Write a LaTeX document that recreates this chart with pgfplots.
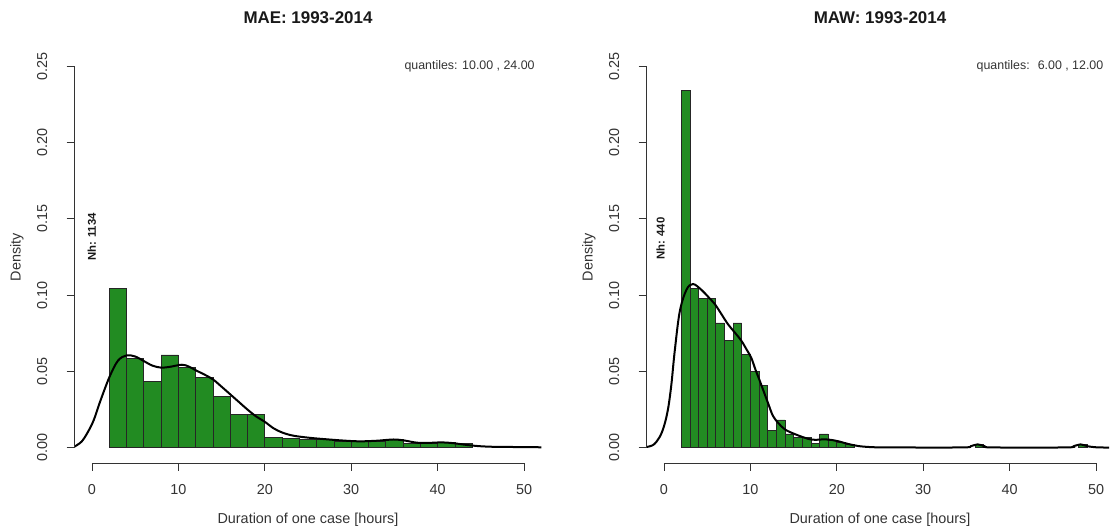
\documentclass[border=0pt]{standalone}
\usepackage{fontspec}
\setmainfont{Liberation Sans}
\usepackage{pgfplots}
\pgfplotsset{compat=1.18}
\definecolor{barfill}{HTML}{228B22}
\definecolor{axgray}{HTML}{333333}

\pgfplotsset{
  rhist/.style={
    scale only axis, width=350pt, height=309pt,
    xmin=-2, xmax=52, ymin=-0.01, ymax=0.26,
    clip=false,
    axis line style={draw=none},
    xtick={0,10,20,30,40,50},
    xticklabels={0,10,20,30,40,50},
    ytick={0,0.05,0.1,0.15,0.2,0.25},
    yticklabels={0.00,0.05,0.10,0.15,0.20,0.25},
    tick align=outside, xtick pos=bottom, ytick pos=left,
    major tick length=6pt,
    tick style={axgray, line width=0.6pt},
    ticklabel style={font=\fontsize{10.8}{12}\selectfont, text=axgray},
    xticklabel style={anchor=base, yshift=-17.8pt},
    yticklabel style={xshift=-14.6pt, rotate=90, anchor=base},
  },
  hbar/.style={ybar interval, fill=barfill, draw=black!85, line width=0.5pt},
  dens/.style={smooth, tension=0.55, black, line width=1.5pt, mark=none},
}

\begin{document}
\begin{tikzpicture}
\useasboundingbox (0,0) rectangle (834.75pt,397.5pt);

% ---------------- left panel ----------------
\begin{axis}[rhist, at={(56.0pt,50.25pt)}, anchor=south west]
\addplot[hbar] coordinates {(2,0.1045) (4,0.0586) (6,0.0437) (8,0.0608) (10,0.0525) (12,0.0463) (14,0.0335) (16,0.0220) (18,0.0216) (20,0.0066) (22,0.0062) (24,0.0057) (26,0.0053) (28,0.0044) (30,0.0040) (32,0.0040) (34,0.0057) (36,0.0031) (38,0.0031) (40,0.0035) (42,0.0026) (44,0)};
\addplot[dens] coordinates {(-2,0.0008) (-1.2,0.004) (-0.5,0.010) (0.2,0.018) (0.93,0.030) (2.0,0.046) (3.0,0.057) (4.0,0.0605) (5.0,0.0598) (6.0,0.0568) (7.0,0.0538) (8.0,0.0525) (9.0,0.0530) (10.4,0.0544) (11.2,0.0532) (12.1,0.0505) (13.0,0.0480) (14.0,0.0448) (15.0,0.0400) (16.0,0.0350) (17.0,0.0300) (18.0,0.0250) (19.0,0.0205) (20.0,0.0170) (21.0,0.0128) (22.0,0.0100) (23.3,0.0079) (25.2,0.0065) (27.0,0.0056) (29.1,0.0047) (31.0,0.0042) (33.0,0.0046) (34.9,0.0054) (36.2,0.0047) (37.6,0.0033) (39.0,0.0032) (40.5,0.0035) (41.8,0.0030) (43.4,0.0018) (44.9,0.0010) (46.5,0.0006) (48.4,0.0005) (50,0.0004) (52,0.0003)};
\draw[axgray, line width=0.6pt] (axis cs:0,-0.01) -- (axis cs:50,-0.01);
\draw[axgray, line width=0.6pt] (axis cs:-2,0) -- (axis cs:-2,0.25);
\node[font=\bfseries\fontsize{12.7}{14}\selectfont, text=black!90, yshift=24.75pt] at (rel axis cs:0.5,1) {MAE: 1993-2014};
\node[font=\fontsize{10.8}{12}\selectfont, text=axgray, yshift=-42.75pt] at (rel axis cs:0.5,0) {Duration of one case [hours]};
\node[font=\fontsize{10.8}{12}\selectfont, text=axgray, xshift=-43.3pt, rotate=90] at (rel axis cs:0,0.5) {Density};
\node[font=\fontsize{9.3}{11}\selectfont, text=axgray, anchor=east, xshift=-1.5pt] at (axis cs:52,0.25) {quantiles: 10.00 , 24.00};
\node[font=\bfseries\fontsize{8.5}{10}\selectfont, text=black!90, rotate=90] at (axis cs:0,0.138) {Nh: 1134};
\end{axis}

% ---------------- right panel ----------------
\begin{axis}[rhist, at={(485.0pt,50.25pt)}, anchor=south west]
\addplot[hbar] coordinates {(2,0.2341) (3,0.1045) (4,0.0977) (5,0.0977) (6,0.0818) (7,0.0705) (8,0.0818) (9,0.0614) (10,0.0500) (11,0.0409) (12,0.0114) (13,0.0182) (14,0.0091) (15,0.0068) (16,0.0068) (17,0.0026) (18,0.0091) (19,0.0047) (20,0.0034) (21,0.0023) (22,0)};
\addplot[hbar] coordinates {(36,0.0023) (37,0)};
\addplot[hbar] coordinates {(48,0.0023) (49,0)};
\addplot[dens] coordinates {(-2,0.0005) (-1.2,0.002) (-0.5,0.007) (0,0.014) (0.46,0.025) (0.85,0.041) (1.24,0.063) (1.82,0.089) (2.6,0.1035) (3.36,0.1073) (4.33,0.1035) (5.1,0.0990) (5.9,0.0940) (6.6,0.0880) (7.4,0.0810) (8.2,0.0755) (8.97,0.0700) (9.6,0.0640) (10.1,0.0590) (10.6,0.0510) (11.1,0.0437) (11.6,0.0360) (12.1,0.0284) (12.6,0.0210) (13.2,0.0164) (14.0,0.0120) (15.2,0.0088) (16.7,0.0058) (17.5,0.0052) (18.6,0.0055) (19.5,0.0050) (20.2,0.0042) (21.3,0.0025) (22.5,0.0011) (24,0.0004) (26,0.0002) (34.5,0.0002) (35.5,0.0010) (36.3,0.0022) (37.1,0.0010) (38,0.0002) (46.5,0.0002) (47.4,0.0010) (48.2,0.0022) (49.0,0.0010) (50,0.0003) (51.5,0.0001)};
\draw[axgray, line width=0.6pt] (axis cs:0,-0.01) -- (axis cs:50,-0.01);
\draw[axgray, line width=0.6pt] (axis cs:-2,0) -- (axis cs:-2,0.25);
\node[font=\bfseries\fontsize{12.7}{14}\selectfont, text=black!90, yshift=24.75pt] at (rel axis cs:0.5,1) {MAW: 1993-2014};
\node[font=\fontsize{10.8}{12}\selectfont, text=axgray, yshift=-42.75pt] at (rel axis cs:0.5,0) {Duration of one case [hours]};
\node[font=\fontsize{10.8}{12}\selectfont, text=axgray, xshift=-43.3pt, rotate=90] at (rel axis cs:0,0.5) {Density};
\node[font=\fontsize{9.3}{11}\selectfont, text=axgray, anchor=east, xshift=-4pt] at (axis cs:52,0.25) {quantiles:~ 6.00 , 12.00};
\node[font=\bfseries\fontsize{8.5}{10}\selectfont, text=black!90, rotate=90] at (axis cs:-0.4,0.137) {Nh: 440};
\end{axis}
\end{tikzpicture}
\end{document}
